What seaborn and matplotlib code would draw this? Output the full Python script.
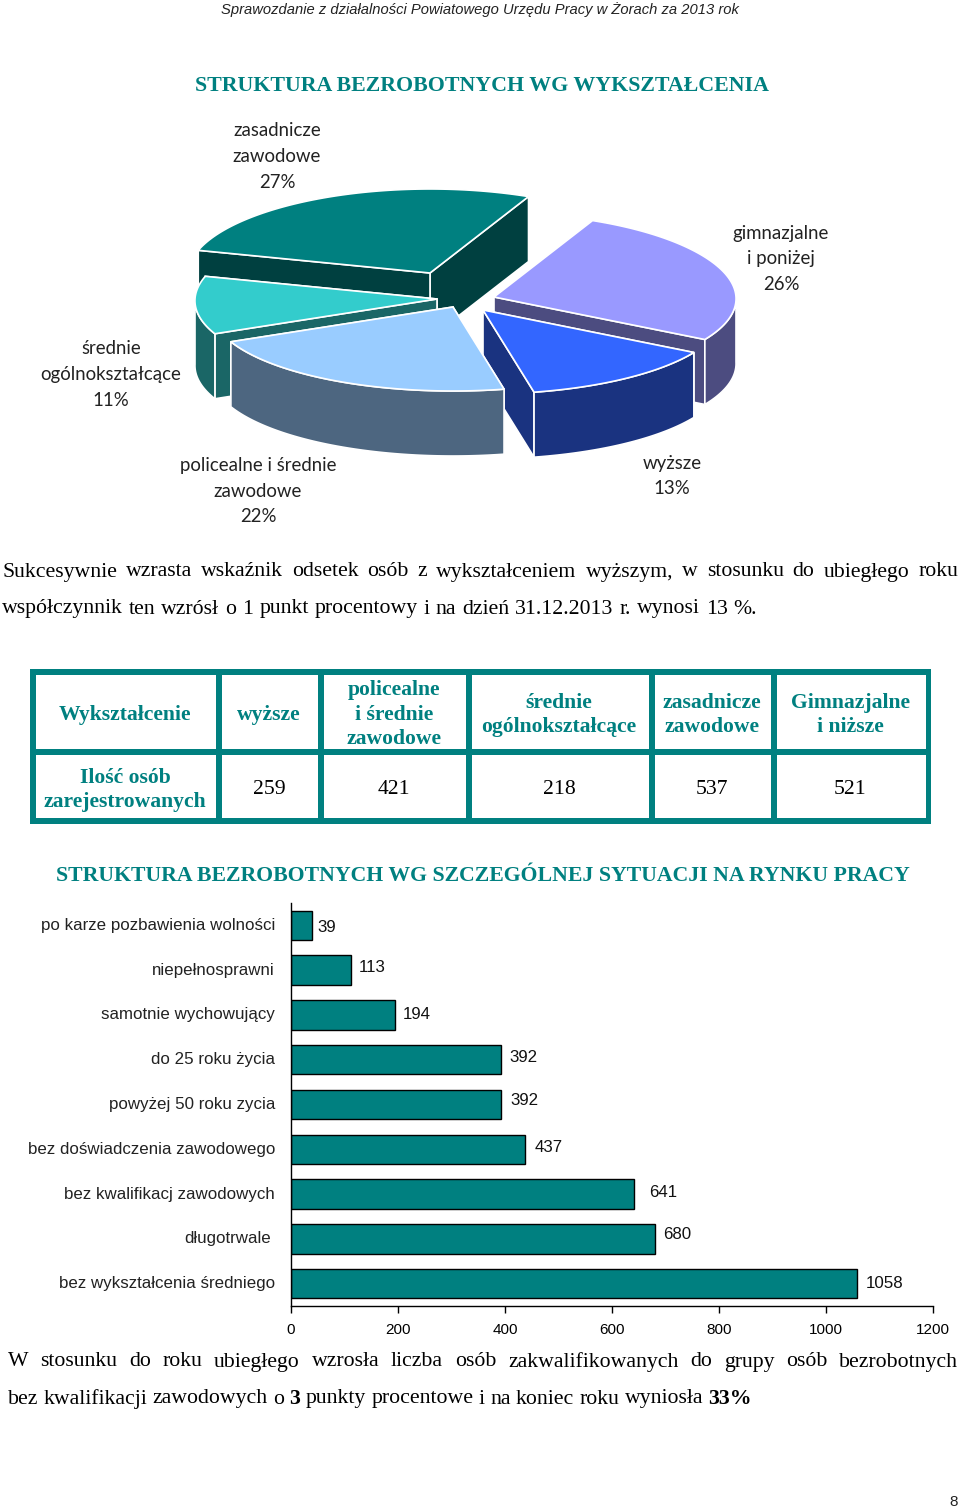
import numpy as np
import pandas as pd
import matplotlib
matplotlib.use("Agg")
import matplotlib.pyplot as plt
from matplotlib.patches import Polygon, Rectangle
from matplotlib.transforms import ScaledTranslation
import seaborn as sns

# education table, same order as in the source
edu_headers = ["wyższe", "policealne\ni średnie\nzawodowe", "średnie\nogólnokształcące",
               "zasadnicze\nzawodowe", "Gimnazjalne\ni niższe"]
edu_counts = [259, 421, 218, 537, 521]

# pie slices, clockwise from the gimnazjalne wedge
pie_counts = [521, 259, 421, 218, 537]
pie_labels = [
    ["gimnazjalne", "i poniżej", "26%"],
    ["wyższe", "13%"],
    ["policealne i średnie", "zawodowe", "22%"],
    ["średnie", "ogólnokształcące", "11%"],
    ["zasadnicze", "zawodowe", "27%"],
]
pie_label_pos = [(781, 233), (672, 463), (258, 466), (111, 349), (277, 131)]
pie_top = ["#9999FF", "#3366FF", "#99CCFF", "#33CCCC", "#008080"]
pie_wall = ["#4C4C80", "#1A3380", "#4D6680", "#1A6666", "#004040"]
# the slices were pulled out by hand in the original
pie_shift = [(44, 7), (33, 20), (3, 17), (-13, 9), (-20, -17)]

# bar chart
sit_labels = ["po karze pozbawienia wolności", "niepełnosprawni", "samotnie wychowujący",
              "do 25 roku życia", "powyżej 50 roku zycia", "bez doświadczenia zawodowego",
              "bez kwalifikacj zawodowych", "długotrwale", "bez wykształcenia średniego"]
sit_values = [39, 113, 194, 392, 392, 437, 641, 680, 1058]
sit_label_dx = [6, 7, 8, 9, 10, 10, 15, 8, 9]
sit_label_dy = [2, -3, 0, -2, -4, -2, -2, -4, 0]
x_ticks = [0, 200, 400, 600, 800, 1000, 1200]

TEAL = "#008080"
SERIF = "Liberation Serif"
ARIAL = "Liberation Sans"

sns.set_theme(style="white")
plt.rcParams["font.family"] = [ARIAL, "DejaVu Sans"]

fig = plt.figure(figsize=(9.6, 15.08), dpi=100)
page = fig.add_axes([0, 0, 1, 1])
page.set_xlim(0, 960)
page.set_ylim(1508, 0)
page.axis("off")
renderer = fig.canvas.get_renderer()


def word_width(word, size, bold):
    t = page.text(0, 0, word, family=SERIF, fontsize=size, weight="bold" if bold else "normal")
    w = t.get_window_extent(renderer).width
    t.remove()
    return w


def spread_line(line, x0, x1, y, size=15.7):
    """Set a line word by word so it runs from x0 to x1 (words with * are bold)"""
    words = [(w.strip("*"), w.startswith("*")) for w in line.split()]
    widths = [word_width(w, size, b) for w, b in words]
    gap = (x1 - x0 - sum(widths)) / (len(words) - 1)
    x = x0
    for (w, b), wd in zip(words, widths):
        page.text(x, y, w, family=SERIF, fontsize=size, weight="bold" if b else "normal",
                  va="center", ha="left", color="black")
        x += wd + gap


def draw_pie(cx=450, cy=290, rx=242, ry=84, depth=65, persp=0.02, start=24.5):
    fracs = np.array(pie_counts) / sum(pie_counts)
    edges = start + 360 * np.concatenate([[0], np.cumsum(fracs)])

    def project(theta, ox, oy):
        t = np.radians(theta)
        return ox + rx * np.sin(t) * (1 - persp * np.cos(t)), oy - ry * np.cos(t)

    for i in [4, 3, 0, 1, 2]:  # back to front
        ox, oy = cx + pie_shift[i][0], cy + pie_shift[i][1]
        th = np.linspace(edges[i], edges[i + 1], 80)
        ax_, ay_ = project(th, ox, oy)
        outline = np.column_stack([np.r_[ox, ax_], np.r_[oy, ay_]])

        walls = []
        for px, py in [(ax_[0], ay_[0]), (ax_[-1], ay_[-1])]:
            walls.append([(ox, oy), (px, py), (px, py + depth), (ox, oy + depth)])
        front = (th % 360 > 90) & (th % 360 < 270)
        if front.any():
            fx, fy = ax_[front], ay_[front]
            walls.append(np.column_stack([np.r_[fx, fx[::-1]], np.r_[fy, fy[::-1] + depth]]))
        walls.sort(key=lambda w: np.mean(np.asarray(w)[:, 1]))
        for w in walls:
            page.add_patch(Polygon(w, closed=True, fc=pie_wall[i], ec="white", lw=1.2))
        page.add_patch(Polygon(outline, closed=True, fc=pie_top[i], ec="white", lw=1.2))

    for lines, (x, y) in zip(pie_labels, pie_label_pos):
        for k, line in enumerate(lines):
            page.text(x, y + k * 25.5, line, family="Lato", fontsize=13.4, ha="center", va="center",
                      color="#222222")


def draw_table():
    col_edges = [30, 216, 318, 466, 649, 771, 926]
    row_edges = [669, 749, 818]
    bar = 6
    page.add_patch(Rectangle((30, 669), 901, 155, fc=TEAL, ec="none"))
    for c0, c1 in zip(col_edges[:-1], col_edges[1:]):
        for r0, r1 in zip(row_edges[:-1], row_edges[1:]):
            page.add_patch(Rectangle((c0 + bar, r0 + bar), c1 - c0 - bar, r1 - r0 - bar,
                                     fc="white", ec="none"))

    centers = [269, 394, 559, 712, 850]
    page.text(125, 715, "Wykształcenie", family=SERIF, fontsize=15.6, weight="bold", color=TEAL,
              ha="center", va="center")
    page.text(125, 790, "Ilość osób\nzarejestrowanych", family=SERIF, fontsize=15.6, weight="bold",
              color=TEAL, ha="center", va="center", linespacing=1.28)
    for x, head, n in zip(centers, edu_headers, edu_counts):
        page.text(x, 715, head, family=SERIF, fontsize=15.6, weight="bold", color=TEAL,
                  ha="center", va="center", linespacing=1.3)
        page.text(x, 790, str(n), family=SERIF, fontsize=15.6, color="black", ha="center", va="center")


def draw_bars():
    df = pd.DataFrame({"sytuacja": sit_labels, "osoby": sit_values})
    ax = fig.add_axes([291 / 960, 1 - 1306 / 1508, 642 / 960, 403 / 1508])
    ax.patch.set_alpha(0)
    sns.barplot(data=df, x="osoby", y="sytuacja", color=TEAL, saturation=1, width=0.66,
                edgecolor="black", linewidth=1, ax=ax)
    ax.set_xlim(0, 1200)
    ax.set_ylim(8.5, -0.5)
    ax.set_xlabel("")
    ax.set_ylabel("")
    ax.set_xticks(x_ticks)
    ax.tick_params(axis="x", bottom=True, length=5, width=1, color="black", labelsize=11,
                   labelcolor="black", pad=7)
    ax.tick_params(axis="y", left=False, labelsize=12.2, labelcolor="#222222", pad=5.5)
    for s in ["top", "right"]:
        ax.spines[s].set_visible(False)
    for s in ["left", "bottom"]:
        ax.spines[s].set_color("black")
        ax.spines[s].set_linewidth(1)

    for i, v in enumerate(sit_values):
        ax.annotate(str(v), xy=(v, i), xytext=(sit_label_dx[i] * 0.72, -sit_label_dy[i] * 0.72),
                    textcoords="offset points", ha="left", va="center", fontsize=12.2, color="#111111")
    # tick labels sit a touch high, "długotrwale" also a little to the left
    for k, lab in enumerate(ax.get_yticklabels()):
        dx = -4 if k == 7 else 0
        lab.set_transform(lab.get_transform() + ScaledTranslation(dx / 100, 1.5 / 100, fig.dpi_scale_trans))


page.text(480, 10, "Sprawozdanie z działalności Powiatowego Urzędu Pracy w Żorach za 2013 rok",
          family=ARIAL, style="italic", fontsize=10.65, ha="center", va="center", color="#222222")
page.text(482, 86, "STRUKTURA BEZROBOTNYCH WG WYKSZTAŁCENIA", family=SERIF, weight="bold",
          fontsize=15.75, color=TEAL, ha="center", va="center")

draw_pie()

spread_line("Sukcesywnie wzrasta wskaźnik odsetek osób z wykształceniem wyższym, w stosunku do ubiegłego roku",
            2, 958, 572)
spread_line("współczynnik ten wzrósł o 1 punkt procentowy i na dzień 31.12.2013 r. wynosi 13 %.",
            2, 757, 609)

draw_table()

page.text(483, 876, "STRUKTURA BEZROBOTNYCH WG SZCZEGÓLNEJ SYTUACJI NA RYNKU PRACY", family=SERIF,
          weight="bold", fontsize=15.7, color=TEAL, ha="center", va="center")

draw_bars()

spread_line("W stosunku do roku ubiegłego wzrosła liczba osób zakwalifikowanych do grupy osób bezrobotnych",
            8, 958, 1362)
spread_line("bez kwalifikacji zawodowych o *3 punkty procentowe i na koniec roku wyniosła *33%",
            8, 752, 1399)

page.text(954, 1502, "8", family=ARIAL, fontsize=11, ha="center", va="center", color="#222222")

fig.savefig("out.png", dpi=100)
